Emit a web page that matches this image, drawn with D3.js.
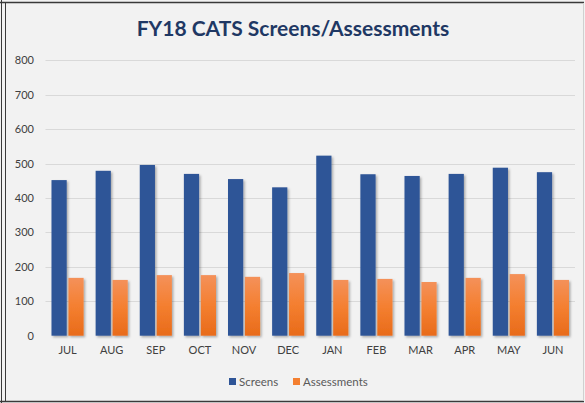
<!DOCTYPE html>
<html>
<head>
<meta charset="utf-8">
<script src="https://cdn.jsdelivr.net/npm/d3@7"></script>
<style>
  body { margin: 0; background: #fff; }
  svg { display: block; }
</style>
</head>
<body>
<svg id="chart" width="585" height="403"></svg>
<script>
// Chart data
const months = ['JUL', 'AUG', 'SEP', 'OCT', 'NOV', 'DEC', 'JAN', 'FEB', 'MAR', 'APR', 'MAY', 'JUN'];
const screens = [452, 479, 496, 470, 455, 431, 523, 469, 464, 470, 488, 475];
const assessments = [168, 162, 176, 176, 171, 182, 162, 165, 156, 168, 179, 162];
const yTicks = [0, 100, 200, 300, 400, 500, 600, 700, 800];
const seriesNames = ['Screens', 'Assessments'];

// Display settings
const blue = '#2f5597';
const navy = '#1f3864';
const labelColor = '#404040';
const fontFamily = 'Lato, "Open Sans", sans-serif';

const svg = d3.select('#chart');
const width = +svg.attr('width');
const height = +svg.attr('height');

// Background and frame
svg.append('rect').attr('x', 0).attr('y', 0).attr('width', width).attr('height', height).attr('fill', '#f2f2f2');
svg.append('line').attr('x1', 0).attr('x2', 584).attr('y1', 2.5).attr('y2', 2.5).attr('stroke', '#3a3a3a').attr('stroke-width', 1.5);
svg.append('line').attr('x1', 1.5).attr('x2', 1.5).attr('y1', 0).attr('y2', height).attr('stroke', '#3a3a3a').attr('stroke-width', 1);
svg.append('line').attr('x1', 5.5).attr('x2', 5.5).attr('y1', 2).attr('y2', 401).attr('stroke', '#3a3a3a').attr('stroke-width', 1);
svg.append('line').attr('x1', 0).attr('x2', 584).attr('y1', 401.5).attr('y2', 401.5).attr('stroke', '#3a3a3a').attr('stroke-width', 1.5);
svg.append('line').attr('x1', 583.5).attr('x2', 583.5).attr('y1', 3).attr('y2', 401).attr('stroke', '#d0d0d0').attr('stroke-width', 1);

// Defs: gradient and shadow
const defs = svg.append('defs');
const grad = defs.append('linearGradient').attr('id', 'orangeGrad')
  .attr('x1', 0).attr('y1', 0).attr('x2', 0).attr('y2', 1);
grad.append('stop').attr('offset', '0%').attr('stop-color', '#f4915a');
grad.append('stop').attr('offset', '50%').attr('stop-color', '#f47f30');
grad.append('stop').attr('offset', '100%').attr('stop-color', '#e86b1a');

const shadow = defs.append('filter').attr('id', 'shadow')
  .attr('x', '-30%').attr('y', '-10%').attr('width', '160%').attr('height', '130%');
shadow.append('feDropShadow').attr('dx', 1.5).attr('dy', 1.5).attr('stdDeviation', 1.2)
  .attr('flood-color', '#000').attr('flood-opacity', 0.3);

// Title
svg.append('text')
  .attr('x', 293).attr('y', 36)
  .attr('text-anchor', 'middle')
  .style('font-family', fontFamily)
  .style('font-weight', 700)
  .style('font-size', '21px')
  .attr('fill', navy)
  .text('FY18 CATS Screens/Assessments');

// Scales
const x0 = d3.scaleBand().domain(months).range([45.5, 575]).padding(0);
const x1 = d3.scaleBand().domain(seriesNames).range([6, x0.bandwidth() - 6]).paddingInner(0.1);
const y = d3.scaleLinear().domain([0, 800]).range([335.7, 60.3]);

// Gridlines
svg.append('g')
  .selectAll('line')
  .data(yTicks.filter(d => d > 0))
  .join('line')
  .attr('x1', 45.5).attr('x2', 575)
  .attr('y1', d => Math.round(y(d)) + 0.5).attr('y2', d => Math.round(y(d)) + 0.5)
  .attr('stroke', '#d9d9d9').attr('stroke-width', 1);

// Y axis labels
const yAxis = svg.append('g')
  .attr('transform', 'translate(34,0)')
  .call(d3.axisLeft(y).tickValues(yTicks).tickSize(0).tickPadding(0));
yAxis.select('.domain').remove();
yAxis.selectAll('text')
  .style('font-family', fontFamily)
  .style('font-size', '11px')
  .attr('fill', labelColor);

// Bars
const groups = svg.append('g')
  .selectAll('g')
  .data(months.map((m, i) => ({ month: m, values: [screens[i], assessments[i]] })))
  .join('g')
  .attr('transform', d => `translate(${x0(d.month)},0)`);

groups.selectAll('rect')
  .data(d => d.values.map((v, j) => ({ key: seriesNames[j], value: v })))
  .join('rect')
  .attr('x', d => x1(d.key))
  .attr('y', d => y(d.value))
  .attr('width', x1.bandwidth())
  .attr('height', d => y(0) - y(d.value))
  .attr('fill', d => d.key === 'Screens' ? blue : 'url(#orangeGrad)')
  .attr('filter', 'url(#shadow)');

// Zero axis line
svg.append('line')
  .attr('x1', 45.5).attr('x2', 575)
  .attr('y1', y(0) + 0.5).attr('y2', y(0) + 0.5)
  .attr('stroke', '#d0d0d0').attr('stroke-width', 1.5)
  .attr('filter', 'url(#shadow)');

// X axis labels
const xAxis = svg.append('g')
  .attr('transform', `translate(0,${y(0) + 10})`)
  .call(d3.axisBottom(x0).tickSize(0).tickPadding(0));
xAxis.select('.domain').remove();
xAxis.selectAll('text')
  .style('font-family', fontFamily)
  .style('font-size', '11px')
  .attr('fill', labelColor);

// Legend
const legendItems = [
  { name: 'Screens', color: blue, x: 229 },
  { name: 'Assessments', color: '#f47f30', x: 293 }
];
const legend = svg.append('g')
  .selectAll('g')
  .data(legendItems)
  .join('g')
  .attr('transform', d => `translate(${d.x},378)`);
legend.append('rect').attr('width', 7).attr('height', 7).attr('fill', d => d.color);
legend.append('text')
  .attr('x', 10).attr('y', 7.5)
  .style('font-family', fontFamily)
  .style('font-size', '11.5px')
  .attr('fill', '#595959')
  .text(d => d.name);
</script>
</body>
</html>
